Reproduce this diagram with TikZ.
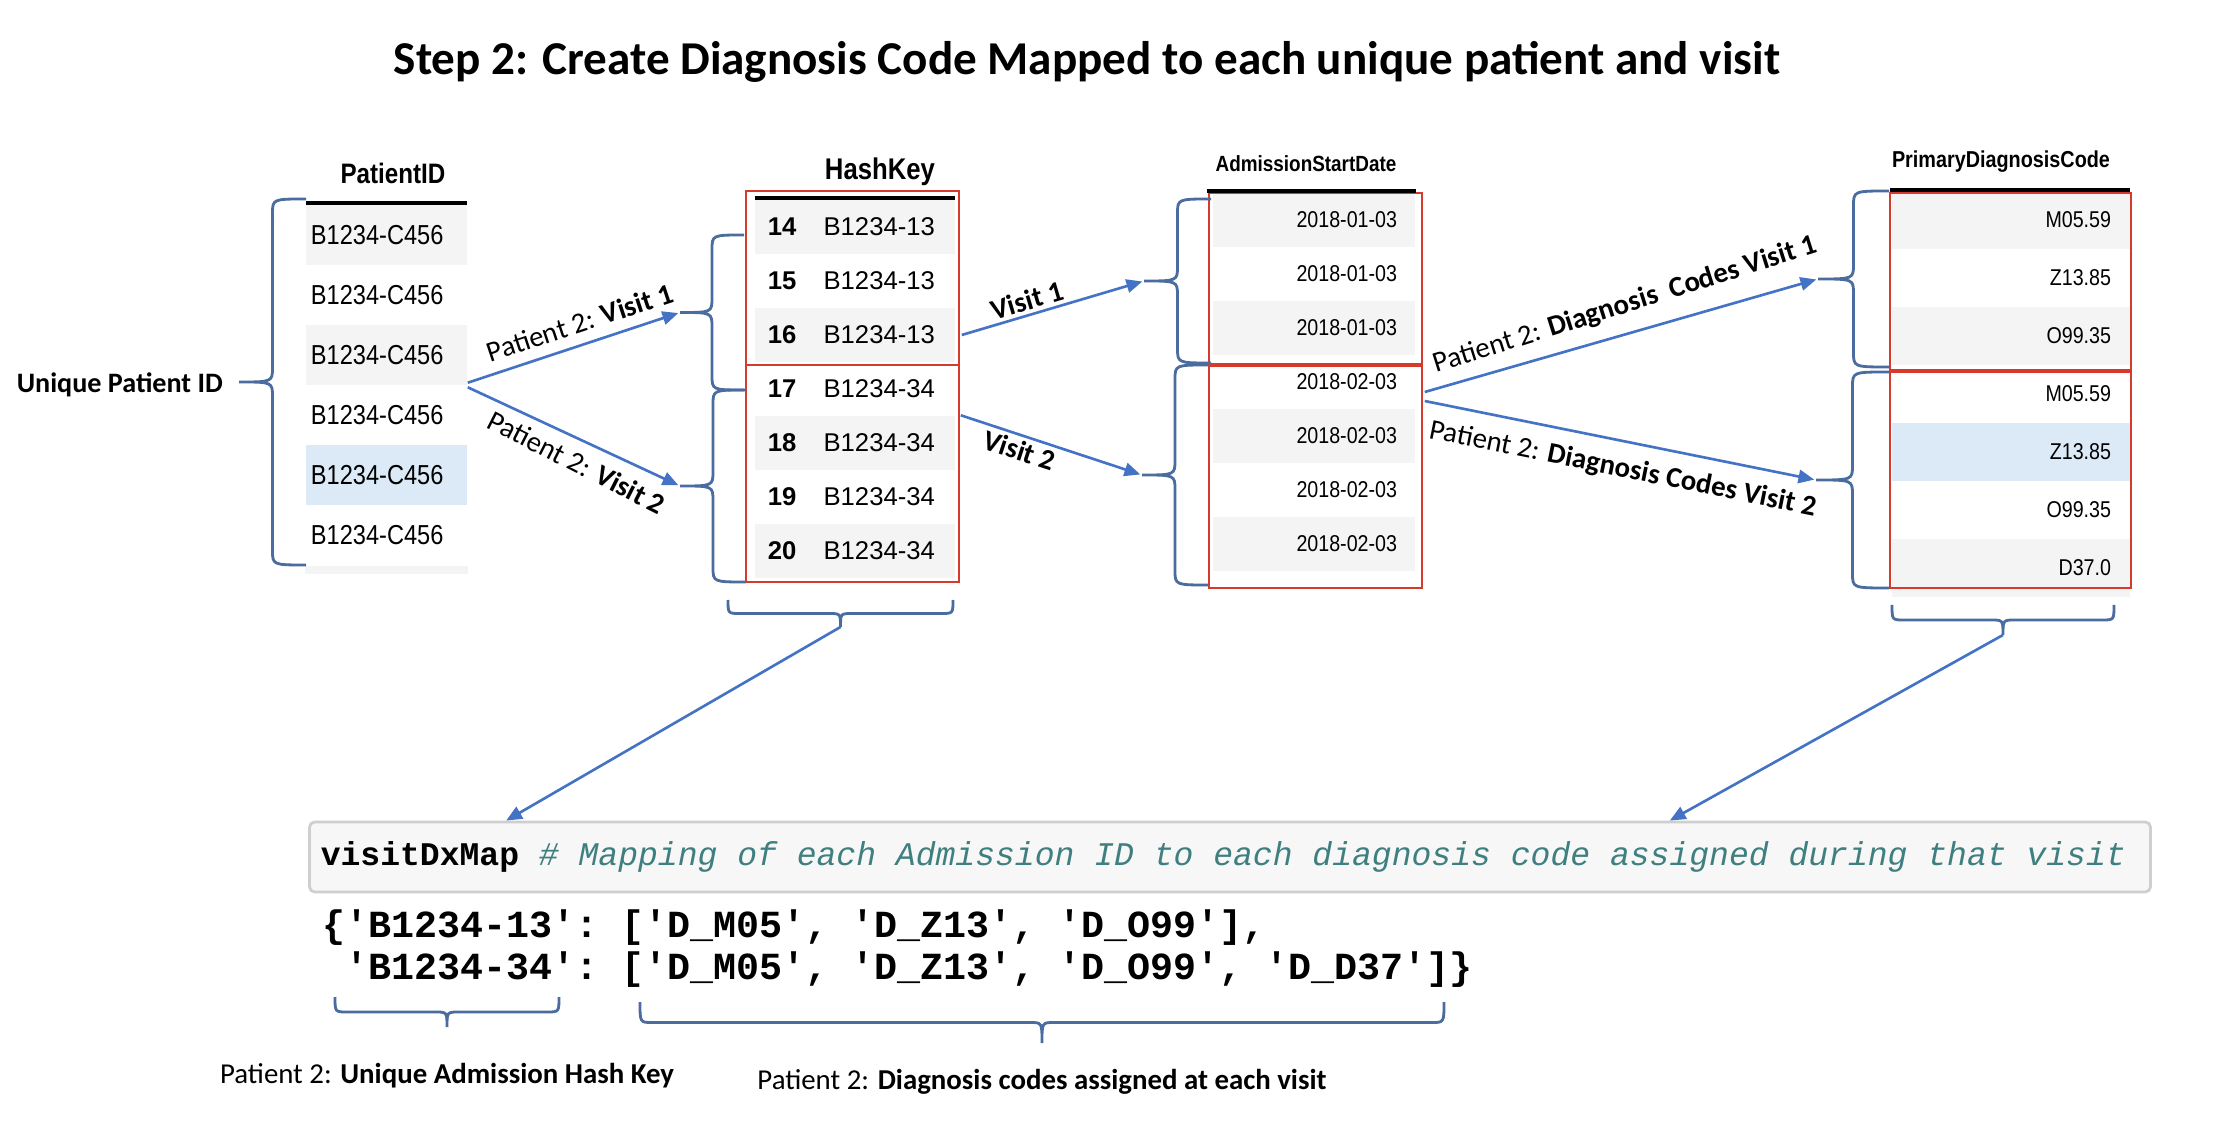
\documentclass[tikz,border=0pt]{standalone}
\usepackage{fontspec}
\setmainfont{Carlito}
\setmonofont{Liberation Mono}
\newfontfamily\tabfont[FakeStretch=0.86]{Liberation Sans}
\newfontfamily\keyfont{Liberation Sans}
\usepackage{tikz}
\usetikzlibrary{arrows.meta,positioning,calc}
\definecolor{cArrow}{HTML}{4472C4}
\definecolor{cBrace}{HTML}{4A6C9E}
\definecolor{cRed}{HTML}{D63A2B}
\definecolor{cRow}{HTML}{F4F4F5}
\definecolor{cPick}{HTML}{DCEAF8}
\definecolor{cCmt}{HTML}{3F7F7F}
\definecolor{cCode}{HTML}{F7F7F7}
\definecolor{cCodeLine}{HTML}{CFCFCF}
\tikzset{
  brc/.style    = {draw=cBrace, line width=0.8pt},
  fl/.style     = {-{Triangle[length=4.5pt,width=3.8pt]}, draw=cArrow, line width=0.75pt},
  lab/.style    = {font=\fontsize{8.2}{10}\selectfont, inner sep=1pt},
  hdr/.style    = {font=\tabfont\bfseries\fontsize{#1}{#1}\selectfont, inner sep=0pt},
  hline/.style  = {draw=black, line width=0.9pt},
  redbox/.style = {draw=cRed, line width=0.65pt},
  pcell/.style  = {rectangle, minimum height=0.6cm, inner xsep=0.05cm, inner ysep=0pt,
                   text width=1.51cm, align=left, font=\tabfont\fontsize{7.8}{9}\selectfont},
  hcell/.style  = {rectangle, minimum height=0.54cm, inner xsep=0.13cm, inner ysep=0pt,
                   text width=1.74cm, align=left, font=\keyfont\fontsize{7.3}{9}\selectfont},
  acell/.style  = {rectangle, minimum height=0.54cm, inner xsep=0.18cm, inner ysep=0pt,
                   text width=1.66cm, align=right, font=\tabfont\fontsize{6.5}{8}\selectfont},
  dcell/.style  = {rectangle, minimum height=0.58cm, inner xsep=0.19cm, inner ysep=0pt,
                   text width=2.0cm, align=right, font=\tabfont\fontsize{6.5}{8}\selectfont},
  codebox/.style= {rectangle, rounded corners=1.5pt, draw=cCodeLine, line width=0.8pt, fill=cCode,
                   minimum width=18.4cm, minimum height=0.7cm},
  code/.style   = {anchor=west, inner sep=0pt, font=\ttfamily\fontsize{9.4}{11}\selectfont},
  dict/.style   = {anchor=west, inner sep=0pt, font=\ttfamily\bfseries\fontsize{10.9}{12}\selectfont},
}
% left brace: name, x of ends, y top, y bottom, depth
\newcommand{\lbrc}[5]{%
  \draw[brc] (#2,#3) .. controls (#2-#5/2,#3) .. (#2-#5/2,#3+15)
    -- (#2-#5/2,{(#3+#4)/2-15}) .. controls (#2-#5/2,{(#3+#4)/2}) .. (#2-#5,{(#3+#4)/2})
    .. controls (#2-#5/2,{(#3+#4)/2}) .. (#2-#5/2,{(#3+#4)/2+15})
    -- (#2-#5/2,#4-15) .. controls (#2-#5/2,#4) .. (#2,#4);
  \coordinate (#1) at (#2-#5,{(#3+#4)/2});}
% down brace: name, x left, x right, y of ends, depth
\newcommand{\dbrc}[5]{%
  \draw[brc] (#2,#4) .. controls (#2,#4+#5/2) .. (#2+12,#4+#5/2)
    -- ({(#2+#3)/2-12},#4+#5/2) .. controls ({(#2+#3)/2},#4+#5/2) .. ({(#2+#3)/2},#4+#5)
    .. controls ({(#2+#3)/2},#4+#5/2) .. ({(#2+#3)/2+12},#4+#5/2)
    -- (#3-12,#4+#5/2) .. controls (#3,#4+#5/2) .. (#3,#4);
  \coordinate (#1) at ({(#2+#3)/2},#4+#5);}

\begin{document}
\begin{tikzpicture}[x=0.01cm, y=-0.01cm]
  \useasboundingbox (0,0) rectangle (2220,1140);

  \node[font=\bfseries\fontsize{13.4}{16}\selectfont] (title) at (1087,62)
    {Step 2: Create Diagnosis Code Mapped to each unique patient and visit};

  \node[hdr=8] (hPid) at (393,173) {PatientID};
  \node[pcell, fill=cRow] (pid1) at (386.5,235) {B1234-C456};
  \node[pcell] (pid2) at (386.5,295) {B1234-C456};
  \node[pcell, fill=cRow] (pid3) at (386.5,355) {B1234-C456};
  \node[pcell] (pid4) at (386.5,415) {B1234-C456};
  \node[pcell, fill=cPick] (pid5) at (386.5,475) {B1234-C456};
  \node[pcell] (pid6) at (386.5,535) {B1234-C456};
  \fill[cRow] (pid6.south west) rectangle ([yshift=-0.08cm]pid6.south east);
  \draw[hline] (306,203) -- (467,203);

  \node[hdr=8.5] (hHash) at (880,172) {HashKey};
  \node[hcell, fill=cRow] (hk14) at (855,227) {\textbf{14}\hspace{7.7pt}B1234-13};
  \node[hcell] (hk15) at (855,281) {\textbf{15}\hspace{7.7pt}B1234-13};
  \node[hcell, fill=cRow] (hk16) at (855,335) {\textbf{16}\hspace{7.7pt}B1234-13};
  \node[hcell] (hk17) at (855,389) {\textbf{17}\hspace{7.7pt}B1234-34};
  \node[hcell, fill=cRow] (hk18) at (855,443) {\textbf{18}\hspace{7.7pt}B1234-34};
  \node[hcell] (hk19) at (855,497) {\textbf{19}\hspace{7.7pt}B1234-34};
  \node[hcell, fill=cRow] (hk20) at (855,551) {\textbf{20}\hspace{7.7pt}B1234-34};
  \draw[hline] (755,198) -- (955,198);
  \draw[redbox] (746,191) rectangle (959,365);
  \draw[redbox] (746,365) rectangle (959,582);

  \node[hdr=6.25] (hAdm) at (1306,164) {AdmissionStartDate};
  \node[acell, fill=cRow] (ad1) at (1314,220) {2018-01-03};
  \node[acell] (ad2) at (1314,274) {2018-01-03};
  \node[acell, fill=cRow] (ad3) at (1314,328) {2018-01-03};
  \node[acell] (ad4) at (1314,382) {2018-02-03};
  \node[acell, fill=cRow] (ad5) at (1314,436) {2018-02-03};
  \node[acell] (ad6) at (1314,490) {2018-02-03};
  \node[acell, fill=cRow] (ad7) at (1314,544) {2018-02-03};
  \draw[redbox] (1209,193) rectangle (1422,365);
  \draw[redbox] (1209,365) rectangle (1422,588);
  \draw[redbox, line width=1.3pt] (1209,365) -- (1422,365);
  \draw[hline] (1207,191) -- (1416,191);

  \node[hdr=6.55] (hDx) at (2001,162) {PrimaryDiagnosisCode};
  \node[dcell, fill=cRow] (dx1) at (2011,220) {M05.59};
  \node[dcell] (dx2) at (2011,278) {Z13.85};
  \node[dcell, fill=cRow] (dx3) at (2011,336) {O99.35};
  \node[dcell] (dx4) at (2011,394) {M05.59};
  \node[dcell, fill=cPick] (dx5) at (2011,452) {Z13.85};
  \node[dcell] (dx6) at (2011,510) {O99.35};
  \node[dcell, fill=cRow] (dx7) at (2011,568) {D37.0};
  \draw[redbox] (1890,193) rectangle (2131,371);
  \draw[redbox] (1890,371) rectangle (2131,588);
  \draw[redbox, line width=1.3pt] (1890,371) -- (2131,371);
  \draw[hline] (1890,190) -- (2130,190);

  \lbrc{pidB}{306}{199}{565}{67}
  \lbrc{hkA}{744}{235}{390}{64}
  \lbrc{hkB}{746}{390}{582}{66}
  \lbrc{adA}{1211}{199}{363}{67}
  \lbrc{adB}{1208}{365}{585}{66}
  \lbrc{dxA}{1889}{191}{367}{71}
  \lbrc{dxB}{1889}{372}{588}{73}
  \dbrc{hkC}{728}{953}{600}{27}
  \dbrc{dxC}{1892}{2114}{605}{30}

  \node[lab, font=\bfseries\fontsize{8}{10}\selectfont, left=0.12cm of pidB, yshift=-0.03cm] (upid) {Unique Patient ID};

  \draw[fl, shorten >=0.5pt] ([yshift=0.03cm]pid3.south east) -- node[lab, sloped, above=2pt, pos=0.56] {Patient 2: \textbf{Visit 1}} (hkA);
  \draw[fl, shorten >=0.5pt] ([yshift=-0.03cm]pid4.north east) -- node[lab, sloped, below=2pt, pos=0.56, rotate=-2] {Patient 2: \textbf{Visit 2}} (hkB);
  \draw[fl, shorten >=0.5pt] ([xshift=0.06cm]hk16.east) -- node[lab, sloped, above, pos=0.38] {\textbf{Visit 1}} (adA);
  \draw[fl, shorten >=0.5pt] ([xshift=0.05cm]hk18.north east) -- node[lab, sloped, below, pos=0.35] {\textbf{Visit 2}} (adB);
  \draw[fl, shorten >=0.5pt] ([xshift=0.09cm,yshift=-0.1cm]ad4.east) -- node[lab, sloped, above=3pt, pos=0.53, rotate=1.5] {Patient 2: \textbf{Diagnosis \ Codes Visit 1}} (dxA);
  \draw[fl, shorten >=0.5pt] ([xshift=0.09cm,yshift=-0.19cm]ad4.east) -- node[lab, sloped, below=3pt, pos=0.52] {Patient 2: \textbf{Diagnosis Codes Visit 2}} (dxB);

  \node[codebox] (code) at (1230,857) {};
  \node[code, right=0.12cm of code.west] (codeT) {\textbf{visitDxMap} {\color{cCmt}\itshape\# Mapping of each Admission ID to each diagnosis code assigned during that visit}};
  \draw[fl] (hkC) -- ([xshift=1.98cm]code.north west);
  \draw[fl] (dxC) -- ([xshift=13.61cm]code.north west);

  \node[dict] (dict1) at (322,928) {\{'B1234-13': ['D\_M05', 'D\_Z13', 'D\_O99'],};
  \node[dict] (dict2) at (322,970) {\hphantom{\{}'B1234-34': ['D\_M05', 'D\_Z13', 'D\_O99', 'D\_D37']\}};

  \dbrc{keyC}{335}{559}{997}{30}
  \dbrc{codeC}{640}{1444}{1002}{41}
  \node[lab, below=0.32cm of keyC] (keyL) {Patient 2: \textbf{Unique Admission Hash Key}};
  \node[lab, below=0.22cm of codeC] (codeL) {Patient 2: \textbf{Diagnosis codes assigned at each visit}};
\end{tikzpicture}
\end{document}
